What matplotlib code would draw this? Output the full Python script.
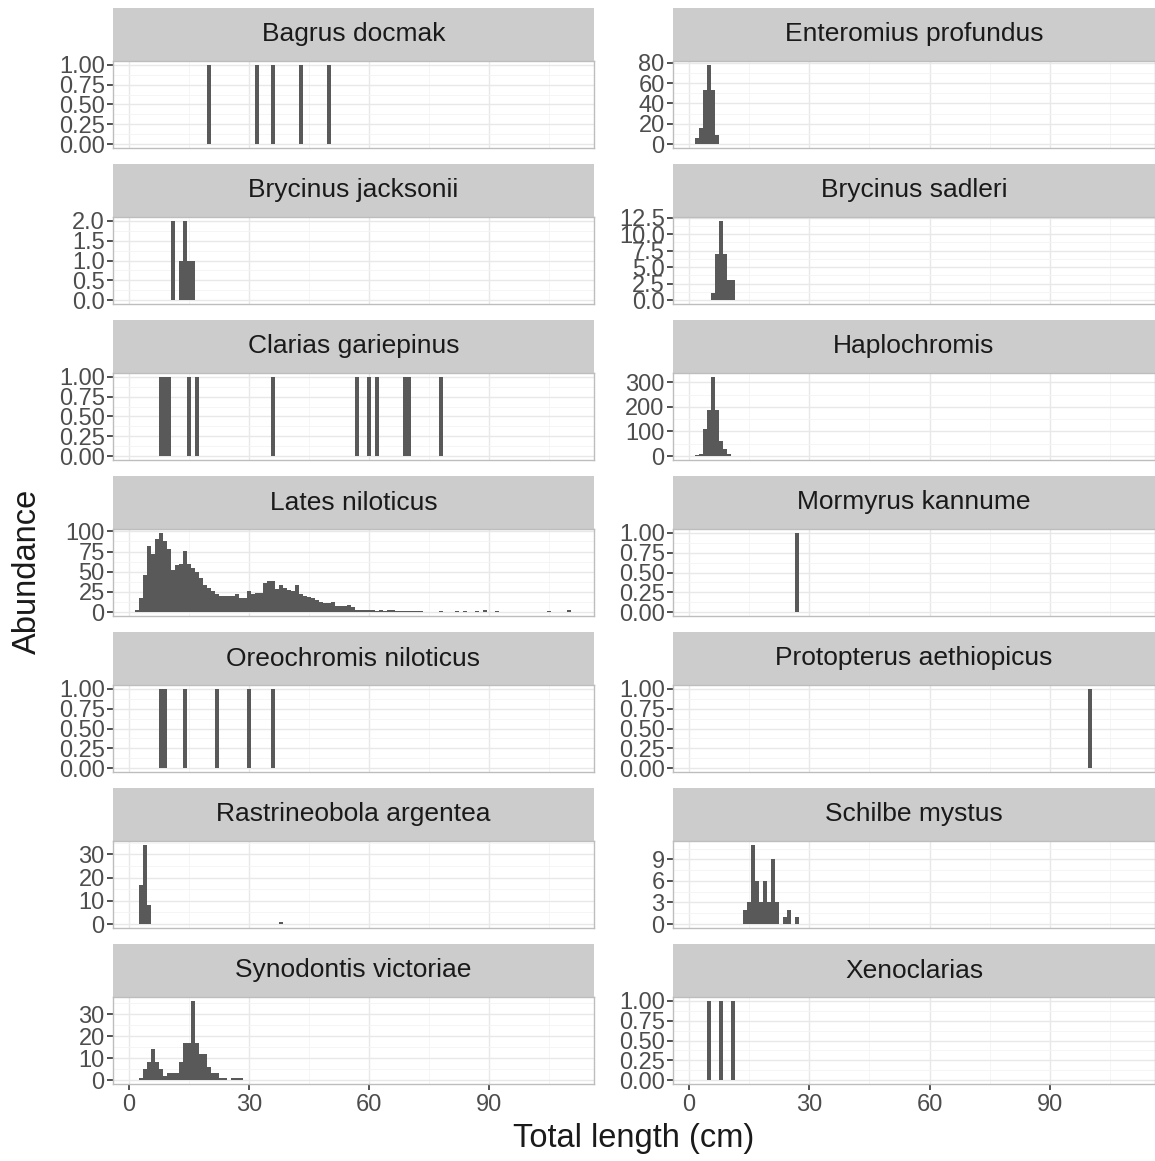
import matplotlib.pyplot as plt
from matplotlib.ticker import FixedLocator

plt.rcParams['font.family'] = ['Liberation Sans', 'DejaVu Sans']

# facet order, row by row (left, right)
species = ['Bagrus docmak', 'Enteromius profundus',
           'Brycinus jacksonii', 'Brycinus sadleri',
           'Clarias gariepinus', 'Haplochromis',
           'Lates niloticus', 'Mormyrus kannume',
           'Oreochromis niloticus', 'Protopterus aethiopicus',
           'Rastrineobola argentea', 'Schilbe mystus',
           'Synodontis victoriae', 'Xenoclarias']

# histogram bins (total length, cm) and counts
bagrus_cm = [20, 32, 36, 43, 50]
bagrus_n = [1, 1, 1, 1, 1]

enteromius_cm = [2, 3, 4, 5, 6, 7]
enteromius_n = [6, 16, 53, 78, 53, 9]

jacksonii_cm = [11, 13, 14, 15, 16]
jacksonii_n = [2, 1, 2, 1, 1]

sadleri_cm = [6, 7, 8, 9, 10, 11]
sadleri_n = [1, 7, 12, 7, 3, 3]

clarias_cm = [8, 9, 10, 15, 17, 36, 57, 60, 62, 69, 70, 78]
clarias_n = [1, 1, 1, 1, 1, 1, 1, 1, 1, 1, 1, 1]

haplo_cm = [2, 3, 4, 5, 6, 7, 8, 9, 10]
haplo_n = [6, 10, 112, 188, 322, 188, 62, 28, 10]

lates_cm = list(range(2, 74)) + [78, 82, 84, 87, 89, 92, 105, 110]
lates_n = [3, 18, 46, 82, 72, 90, 98, 88, 78, 52,
           58, 60, 76, 60, 55, 50, 42, 34, 30, 26,
           22, 20, 20, 20, 20, 22, 18, 17, 26, 22,
           24, 24, 36, 38, 38, 28, 33, 30, 27, 26,
           34, 22, 20, 19, 17, 15, 12, 11, 11, 13,
           8, 7, 7, 9, 6, 3, 3, 3, 2, 2,
           1, 2, 1, 3, 2, 1, 1, 1, 1, 1,
           1, 1,
           1, 1, 1, 1, 2, 1, 1, 2]

mormyrus_cm = [27]
mormyrus_n = [1]

oreo_cm = [8, 9, 14, 22, 30, 36]
oreo_n = [1, 1, 1, 1, 1, 1]

protopterus_cm = [100]
protopterus_n = [1]

rastri_cm = [3, 4, 5, 38]
rastri_n = [17, 34, 8, 1]

schilbe_cm = [14, 15, 16, 17, 18, 19, 20, 21, 22, 24, 25, 27]
schilbe_n = [2, 3, 11, 6, 3, 6, 3, 9, 3, 1, 2, 1]

syno_cm = [3, 4, 5, 6, 7, 8, 9, 10, 11, 12, 13, 14, 15, 16, 17, 18,
           19, 20, 21, 22, 23, 24, 26, 27, 28]
syno_n = [1, 5, 8, 14, 8, 5, 2, 3, 3, 3, 8, 17, 17, 36, 17, 12,
          12, 6, 3, 3, 1, 1, 1, 1, 1]

xeno_cm = [5, 8, 11]
xeno_n = [1, 1, 1]

lengths = [bagrus_cm, enteromius_cm, jacksonii_cm, sadleri_cm, clarias_cm,
           haplo_cm, lates_cm, mormyrus_cm, oreo_cm, protopterus_cm,
           rastri_cm, schilbe_cm, syno_cm, xeno_cm]
counts = [bagrus_n, enteromius_n, jacksonii_n, sadleri_n, clarias_n,
          haplo_n, lates_n, mormyrus_n, oreo_n, protopterus_n,
          rastri_n, schilbe_n, syno_n, xeno_n]

unit_ticks = [0, 0.25, 0.5, 0.75, 1.0]
y_ticks = [unit_ticks, [0, 20, 40, 60, 80],
           [0, 0.5, 1.0, 1.5, 2.0], [0, 2.5, 5.0, 7.5, 10.0, 12.5],
           unit_ticks, [0, 100, 200, 300],
           [0, 25, 50, 75, 100], unit_ticks,
           unit_ticks, unit_ticks,
           [0, 10, 20, 30], [0, 3, 6, 9],
           [0, 10, 20, 30], unit_ticks]
y_fmt = ['{:.2f}', '{:.0f}', '{:.1f}', '{:.1f}', '{:.2f}', '{:.0f}', '{:.0f}',
         '{:.2f}', '{:.2f}', '{:.2f}', '{:.0f}', '{:.0f}', '{:.0f}', '{:.2f}']

x_ticks = [0, 30, 60, 90]

W, H = 1155, 1161
fig = plt.figure(figsize=(W / 100, H / 100), dpi=100)

col_left = [113, 673]
col_w = [481, 482]
strip_h = 53
panel_h = 87
row_step = 156

for i, name in enumerate(species):
    r, c = divmod(i, 2)
    top = 8 + row_step * r
    x0 = col_left[c] / W
    w = col_w[c] / W

    sax = fig.add_axes([x0, 1 - (top + strip_h) / H, w, strip_h / H])
    sax.set_facecolor('#cccccc')
    sax.set_xticks([])
    sax.set_yticks([])
    for sp in sax.spines.values():
        sp.set_visible(False)
    sax.text(0.5, 0.5, name, ha='center', va='center', fontsize=19,
             color='#1a1a1a', transform=sax.transAxes)

    ax = fig.add_axes([x0, 1 - (top + strip_h + panel_h) / H, w, panel_h / H])
    ax.bar(lengths[i], counts[i], width=1.0, color='#595959', linewidth=0,
           zorder=3)
    ymax = max(counts[i])
    ax.set_ylim(-0.05 * ymax, 1.05 * ymax)
    ax.set_xlim(-4, 116.25)

    yt = y_ticks[i]
    ax.yaxis.set_major_locator(FixedLocator(yt))
    ax.set_yticklabels([y_fmt[i].format(v) for v in yt])
    step = yt[1] - yt[0]
    ax.yaxis.set_minor_locator(FixedLocator([v + step / 2 for v in yt]))
    ax.xaxis.set_major_locator(FixedLocator(x_ticks))
    ax.xaxis.set_minor_locator(FixedLocator([15, 45, 75, 105]))

    ax.grid(which='major', color='#e8e8e8', linewidth=1.0, zorder=0)
    ax.grid(which='minor', color='#f4f4f4', linewidth=0.6, zorder=0)
    ax.set_axisbelow(True)

    ax.tick_params(axis='y', which='major', length=4, width=1.2,
                   color='#333333', labelsize=17, labelcolor='#4d4d4d', pad=2)
    ax.tick_params(which='minor', length=0)
    if r == 6:
        ax.tick_params(axis='x', which='major', length=4, width=1.2,
                       color='#333333', labelsize=17, labelcolor='#4d4d4d',
                       pad=3)
    else:
        ax.tick_params(axis='x', which='major', length=0, labelbottom=False)

    for sp in ax.spines.values():
        sp.set_color('#bdbdbd')
        sp.set_linewidth(1.0)

fig.text(634 / W, 1 - 1138 / H, 'Total length (cm)', ha='center',
         va='center', fontsize=23.5, color='#1a1a1a')
fig.text(27 / W, 1 - 571 / H, 'Abundance', ha='center', va='center',
         rotation=90, fontsize=23.5, color='#1a1a1a')

fig.savefig('out.png', dpi=100)
